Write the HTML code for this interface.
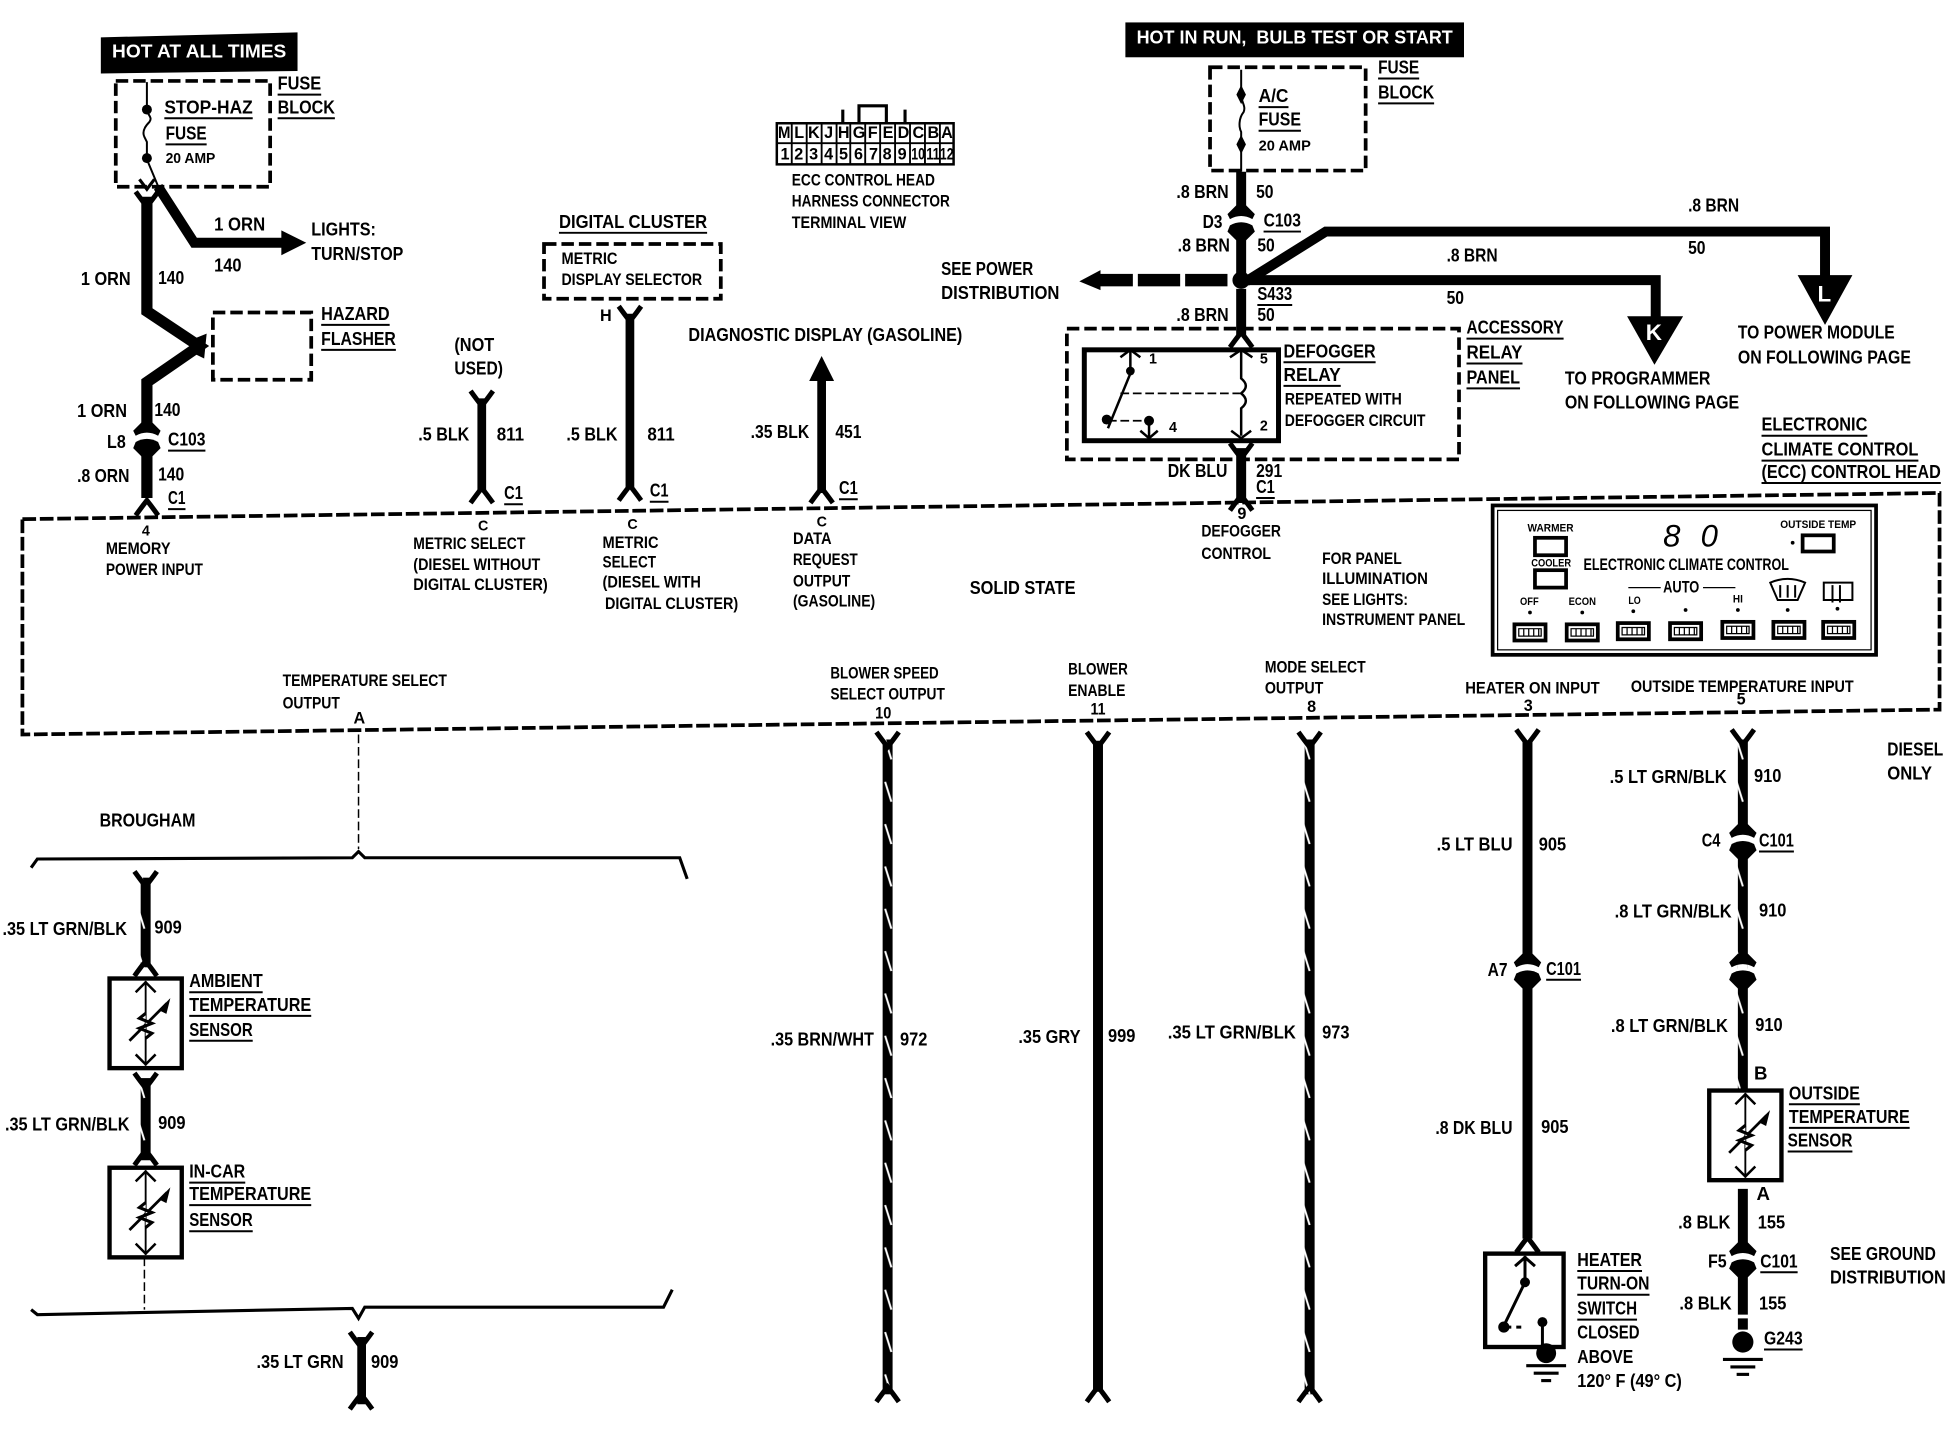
<!DOCTYPE html>
<html><head><meta charset="utf-8"><title>ECC wiring diagram</title>
<style>
html,body{margin:0;padding:0;background:#fff}
svg{display:block}
text{font-family:"Liberation Sans",sans-serif;font-weight:700;font-size:15px;fill:#000;transform:translateY(-1px)}
.s{font-size:13px}.t{font-size:11.5px}.w{fill:#fff}
.k{fill:none;stroke:#000}
</style></head><body>
<svg width="1952" height="1440" viewBox="0 0 1568 1156.7" xmlns="http://www.w3.org/2000/svg">
<defs>
<pattern id="st" width="12" height="34" patternUnits="userSpaceOnUse" patternTransform="translate(0,8)">
<rect width="12" height="34" fill="#000"/><path d="M3,8 L8,24" stroke="#fff" stroke-width="1.6"/>
</pattern>
<g id="ft"><path d="M-9,-6 Q-4,1 0,6 Q4,1 9,-6" fill="none" stroke="#000" stroke-width="4"/></g>
<g id="fb"><path d="M-9,6 Q-4,-1 0,-6 Q4,-1 9,6" fill="none" stroke="#000" stroke-width="4"/></g>
<g id="cn"><path d="M-11,-7 L-4,-14 H4 L11,-7 L9,-3 Q0,-8 -9,-3 Z"/><path d="M-11,7 L-4,14 H4 L11,7 L9,2 Q0,-3 -9,2 Z"/></g>
<g id="sensor">
<rect x="0" y="0" width="58" height="72" fill="#fff" stroke="#000" stroke-width="3.5"/>
<path d="M29,2 V70" stroke="#000" stroke-width="1.5" fill="none"/>
<path d="M21,11 L29,3 L37,11 M21,61 L29,69 L37,61" stroke="#000" stroke-width="2" fill="none"/>
<path d="M16,50 L46,20" stroke="#000" stroke-width="2.2" fill="none"/>
<path d="M41,25 L47,19 L45,27 Z" stroke="#000" stroke-width="2"/>
<path d="M29,28 L24,32 L34,36 L24,40 L34,44 L29,48" stroke="#000" stroke-width="2.5" fill="#fff"/>
</g>
<g id="btn"><rect x="0" y="0" width="28" height="16" fill="#000"/><rect x="3" y="3" width="22" height="10" fill="#fff"/><path d="M5,5H23V11H5Z M9,5V11M13,5V11M17,5V11M21,5V11" fill="none" stroke="#000"/></g>
</defs>

<!-- black headers -->
<path d="M81,30 L239,26 V57 L81,59 Z" fill="#000"/>
<rect x="904" y="18" width="272" height="28" fill="#000"/>

<!-- dashed boxes -->
<g class="k" stroke-width="3" stroke-dasharray="10 4">
<rect x="93" y="65" width="124" height="85"/>
<path d="M18,417 L1558,396 V570 L18,590 Z" stroke-width="3" stroke-dasharray="11 3"/>
<rect x="171" y="251" width="79" height="54"/>
<rect x="437" y="196" width="142" height="44"/>
<rect x="972" y="54" width="125" height="83"/>
<rect x="857" y="264" width="315" height="105"/>
</g>

<!-- thin fuse lines -->
<g class="k" stroke-width="1.6">
<path d="M118,66 V88 C118,92 123,94 120,98 C116,102 114,106 116,110 L118,114 V128 M118,128 L128,152"/>
<path d="M997,56 V76 C997,82 1001,85 999,90 C995,95 995,102 997,106 V138"/>
</g>
<circle cx="118" cy="88" r="4"/><circle cx="118" cy="127" r="4"/>
<path d="M997,70 l-3,6 3,6 3,-6Z M997,110 l-3,6 3,6 3,-6Z" stroke="#000" stroke-width="1.5"/>
<path d="M112,144 L118,152 L124,144" class="k" stroke-width="2.5"/>

<!-- left wires -->
<g class="k" stroke-width="9" stroke-linejoin="miter">
<path d="M118,158 V250 L160,278 L118,307 V345"/>
<path d="M118,362 V400"/>
<path d="M127,150 L156,195 H228" stroke-width="8"/>
</g>
<path d="M226,185 L246,195 L226,205 Z"/>
<path d="M156,272 L166,268 L164,288 L156,284 Z"/>
<use href="#ft" x="118" y="160"/><use href="#cn" x="118" y="353"/><use href="#fb" x="118" y="408"/>

<!-- mid wires -->
<g class="k" stroke-width="7">
<path d="M387,320 V394"/><path d="M506,252 V392"/><path d="M660,303 V396"/>
</g>
<use href="#ft" x="387" y="320"/><use href="#fb" x="387" y="398"/>
<use href="#ft" x="506" y="252"/><use href="#fb" x="506" y="396"/>
<use href="#fb" x="660" y="398"/>
<path d="M650,306 L660,286 L670,306 Z"/>

<!-- right-top wires -->
<g class="k" stroke-width="8">
<path d="M997,138 V172"/><path d="M997,186 V222"/><path d="M997,232 V270"/><path d="M997,360 V404"/>
<path d="M1001,226 L1065,186 H1466 V224"/>
<path d="M1000,225 H1330 V256"/>
</g>
<use href="#cn" x="997" y="179"/>
<circle cx="997" cy="225" r="7"/>
<g fill="#000"><rect x="884" y="220" width="26" height="10"/><rect x="914" y="220" width="34" height="10"/><rect x="952" y="220" width="34" height="10"/>
<path d="M867,226 L884,217 V233 Z"/></g>
<path d="M1444,221 H1488 L1466,261 Z"/><path d="M1307,254 H1352 L1329,293 Z"/>
<text class="w" x="1460" y="243" style="font-size:18px">L</text>
<text class="w" x="1322" y="274" style="font-size:18px">K</text>
<use href="#fb" x="997" y="273"/><use href="#ft" x="997" y="362"/><use href="#fb" x="997" y="404"/>

<!-- relay -->
<rect x="871" y="281" width="156" height="73" fill="#fff" stroke="#000" stroke-width="4"/>
<g class="k" stroke-width="2">
<path d="M908,282 V300 L890,344"/><path d="M900,287 L908,281 L916,287 M988,287 L997,281 L1006,287 M989,346 L997,352 L1005,346 M916,346 L923,352 L930,346"/>
<path d="M923,340 V352"/>
<path d="M997,282 V304 C1002,308 1002,312 997,316 C1002,320 1002,324 997,328 V350"/>
</g>
<path d="M900,316 H996 M890,338 H922" stroke="#000" stroke-width="1.4" stroke-dasharray="7 3" fill="none"/>
<circle cx="908" cy="298" r="3.5"/><circle cx="889" cy="337" r="4"/><circle cx="923" cy="338" r="4"/>

<!-- connector icon -->
<path d="M690,99 V85 H712 V99 M677,99 V88 M727,99 V88" class="k" stroke-width="2.5"/>
<rect x="624" y="99" width="142" height="33" fill="#fff" stroke="#000" stroke-width="2"/>
<path d="M624,115 H766 M636,99V132M648,99V132M660,99V132M672,99V132M683,99V132M695,99V132M707,99V132M719,99V132M731,99V132M743,99V132M755,99V132" class="k" stroke-width="1.5"/>
<g>
<text x="625" y="112" style="font-size:13px" textLength="10" lengthAdjust="spacingAndGlyphs">M</text><text x="638" y="112" style="font-size:13px">L</text><text x="649" y="112" style="font-size:13px">K</text><text x="662" y="112" style="font-size:13px">J</text><text x="673" y="112" style="font-size:13px">H</text><text x="685" y="112" style="font-size:13px">G</text><text x="697" y="112" style="font-size:13px">F</text><text x="709" y="112" style="font-size:13px">E</text><text x="721" y="112" style="font-size:13px">D</text><text x="733" y="112" style="font-size:13px">C</text><text x="745" y="112" style="font-size:13px">B</text><text x="756" y="112" style="font-size:13px">A</text>
<text x="627" y="129" style="font-size:13px">1</text><text x="638" y="129" style="font-size:13px">2</text><text x="650" y="129" style="font-size:13px">3</text><text x="662" y="129" style="font-size:13px">4</text><text x="674" y="129" style="font-size:13px">5</text><text x="686" y="129" style="font-size:13px">6</text><text x="698" y="129" style="font-size:13px">7</text><text x="709" y="129" style="font-size:13px">8</text><text x="721" y="129" style="font-size:13px">9</text><text x="732" y="129" style="font-size:13px" textLength="11" lengthAdjust="spacingAndGlyphs">10</text><text x="744" y="129" style="font-size:13px" textLength="11" lengthAdjust="spacingAndGlyphs">11</text><text x="755" y="129" style="font-size:13px" textLength="11" lengthAdjust="spacingAndGlyphs">12</text>
</g>

<!-- ECC panel -->
<rect x="1199" y="406" width="308" height="120" fill="#fff" stroke="#000" stroke-width="3"/>
<rect x="1203" y="410" width="300" height="112" fill="none" stroke="#000" stroke-width="1"/>
<g class="k" stroke-width="3">
<rect x="1233" y="432" width="25" height="14"/><rect x="1233" y="458" width="25" height="14"/><rect x="1448" y="430" width="25" height="13"/>
</g>
<use href="#btn" x="1215" y="500"/><use href="#btn" x="1257" y="500"/><use href="#btn" x="1298" y="499"/><use href="#btn" x="1340" y="499"/><use href="#btn" x="1382" y="498"/><use href="#btn" x="1423" y="498"/><use href="#btn" x="1463" y="498"/>
<g fill="#000"><circle cx="1229" cy="492" r="1.5"/><circle cx="1271" cy="492" r="1.5"/><circle cx="1312" cy="491" r="1.5"/><circle cx="1354" cy="490" r="1.5"/><circle cx="1396" cy="490" r="1.5"/><circle cx="1436" cy="490" r="1.5"/><circle cx="1476" cy="489" r="1.5"/><circle cx="1440" cy="436" r="1.5"/></g>
<path d="M1308,472 H1334 M1368,472 H1394" class="k" stroke-width="1"/>
<path d="M1422,468 Q1436,462 1450,468 L1444,482 H1428 Z M1465,468 H1488 V482 H1465 Z M1430,470 V480 M1436,470 V480 M1442,470 V480 M1472,470 V484 M1478,470 V484" class="k" stroke-width="1.6"/>
<text x="1336" y="440" style="font-size:25px;font-style:italic;font-weight:400" textLength="44" lengthAdjust="spacing">8 0</text>

<!-- ssb bottom wires -->
<g class="k" stroke-width="7">
<path d="M882,595 V1118" stroke-width="8"/>
<path d="M1227,595 V995" stroke-width="8"/>
<path d="M1400,955 V1004" stroke-width="8"/>
<path d="M1400,1022 V1056 M1400,1059 V1068" stroke-width="8"/>
</g>
<rect x="709" y="594" width="8" height="526" fill="url(#st)"/>
<rect x="1048" y="594" width="8" height="526" fill="url(#st)"/>
<rect x="1396" y="594" width="8" height="72" fill="url(#st)"/>
<rect x="1396" y="684" width="8" height="94" fill="url(#st)"/>
<rect x="1396" y="782" width="8" height="95" fill="url(#st)"/>
<use href="#ft" x="713" y="594"/><use href="#ft" x="882" y="594"/><use href="#ft" x="1052" y="594"/><use href="#ft" x="1227" y="592"/><use href="#ft" x="1400" y="592"/>
<use href="#fb" x="713" y="1120"/><use href="#fb" x="882" y="1120"/><use href="#fb" x="1052" y="1120"/>
<path d="M1227,770 V790" stroke="#fff" stroke-width="9"/>
<path d="M1396,664 H1404 V688 H1396 Z M1396,770 H1404 V790 H1396 Z" fill="#fff"/>
<use href="#cn" x="1400" y="676"/><use href="#cn" x="1400" y="780"/><use href="#cn" x="1227" y="780"/><use href="#cn" x="1400" y="1012"/>
<use href="#fb" x="1227" y="1000"/>

<!-- Brougham -->
<path d="M288,590 V682" stroke="#000" stroke-width="1.2" stroke-dasharray="7 3" fill="none"/>
<path d="M25,697 L30,690 L283,689 L288,684 L293,689 H546 L552,706" class="k" stroke-width="2.5"/>
<path d="M116,1010 V1052" stroke="#000" stroke-width="1.2" stroke-dasharray="7 3" fill="none"/>
<path d="M25,1052 L30,1056 L283,1051 L288,1059 L293,1050 L533,1050 L540,1036" class="k" stroke-width="2.5"/>
<rect x="113" y="705" width="8" height="72" fill="url(#st)"/>
<rect x="113" y="866" width="8" height="66" fill="url(#st)"/>
<rect x="287" y="1074" width="7" height="54" fill="#000"/>
<use href="#ft" x="117" y="706"/><use href="#fb" x="117" y="778"/><use href="#ft" x="117" y="868"/><use href="#fb" x="117" y="930"/>
<use href="#ft" x="290" y="1076"/><use href="#fb" x="290" y="1126"/>
<use href="#sensor" x="88" y="786"/><use href="#sensor" x="88" y="938"/><use href="#sensor" x="1373" y="876"/>

<!-- heater switch -->
<rect x="1193" y="1007" width="63" height="75" fill="#fff" stroke="#000" stroke-width="3.5"/>
<g class="k" stroke-width="2.4">
<path d="M1225,1009 V1030 L1208,1065"/><path d="M1217,1017 L1225,1010 L1233,1017"/>
<path d="M1208,1066 H1222" stroke-dasharray="6 4"/><path d="M1239,1062 V1082"/>
<path d="M1226,1097 H1258" stroke-width="2.5"/><path d="M1232,1103 H1252" stroke-width="2.5"/><path d="M1238,1109 H1246" stroke-width="2.5"/>
<path d="M1384,1092 H1416" stroke-width="2.5"/><path d="M1390,1098 H1410" stroke-width="2.5"/><path d="M1395,1104 H1405" stroke-width="2.5"/>
</g>
<circle cx="1225" cy="1030" r="4"/><circle cx="1208" cy="1066" r="4.5"/><circle cx="1239" cy="1062" r="4"/><circle cx="1242" cy="1087" r="8"/><circle cx="1400" cy="1078" r="8.5"/>

<!-- underlines -->
<path class="k" stroke-width="1.6" d="M223,76h35M223,95h46M132,95h71M133,116h33M258,261h55M258,281h60M135,362h30M135,409h14M405,405h15M449,187h119M522,403h15M674,401h15M1107,63h33M1107,83h45M1011,86h24M1011,105h34M1015,186h30M1010,245h28M1178,272h78M1178,292h45M1178,312h43M1031,291h74M1031,310h46M1415,350h85M1415,370h126M1415,388h144M1009,400h15M1413,684h28M1242,787h28M1437,887h57M1437,906h97M1436,925h52M1414,1022h30M1417,1084h31M1267,1021h52M1267,1040h58M1267,1060h48M152,797h59M152,816h98M152,836h51M152,950h45M152,968h98M152,989h51"/>

<!-- labels -->
<text class="w" x="90" y="47" textLength="140" lengthAdjust="spacingAndGlyphs">HOT AT ALL TIMES</text>
<text class="w" x="913" y="36" textLength="254" lengthAdjust="spacingAndGlyphs" xml:space="preserve">HOT IN RUN,  BULB TEST OR START</text>
<text x="223" y="73" textLength="35" lengthAdjust="spacingAndGlyphs">FUSE</text>
<text x="223" y="92" textLength="46" lengthAdjust="spacingAndGlyphs">BLOCK</text>
<text x="132" y="92" textLength="71" lengthAdjust="spacingAndGlyphs">STOP-HAZ</text>
<text x="133" y="113" textLength="33" lengthAdjust="spacingAndGlyphs">FUSE</text>
<text class="t" x="133" y="132" textLength="40" lengthAdjust="spacingAndGlyphs">20 AMP</text>
<text x="172" y="186" textLength="41" lengthAdjust="spacingAndGlyphs">1 ORN</text>
<text x="250" y="190" textLength="52" lengthAdjust="spacingAndGlyphs">LIGHTS:</text>
<text x="250" y="210" textLength="74" lengthAdjust="spacingAndGlyphs">TURN/STOP</text>
<text x="172" y="219" textLength="22" lengthAdjust="spacingAndGlyphs">140</text>
<text x="65" y="230" textLength="40" lengthAdjust="spacingAndGlyphs">1 ORN</text>
<text x="127" y="229" textLength="21" lengthAdjust="spacingAndGlyphs">140</text>
<text x="258" y="258" textLength="55" lengthAdjust="spacingAndGlyphs">HAZARD</text>
<text x="258" y="278" textLength="60" lengthAdjust="spacingAndGlyphs">FLASHER</text>
<text x="62" y="336" textLength="40" lengthAdjust="spacingAndGlyphs">1 ORN</text>
<text x="124" y="335" textLength="21" lengthAdjust="spacingAndGlyphs">140</text>
<text x="86" y="361" textLength="15" lengthAdjust="spacingAndGlyphs">L8</text>
<text x="135" y="359" textLength="30" lengthAdjust="spacingAndGlyphs">C103</text>
<text x="62" y="388" textLength="42" lengthAdjust="spacingAndGlyphs">.8 ORN</text>
<text x="127" y="387" textLength="21" lengthAdjust="spacingAndGlyphs">140</text>
<text x="135" y="406" textLength="14" lengthAdjust="spacingAndGlyphs">C1</text>
<text class="t" x="114" y="431">4</text>
<text class="s" x="85" y="446" textLength="52" lengthAdjust="spacingAndGlyphs">MEMORY</text>
<text class="s" x="85" y="463" textLength="78" lengthAdjust="spacingAndGlyphs">POWER INPUT</text>
<text x="365" y="283" textLength="32" lengthAdjust="spacingAndGlyphs">(NOT</text>
<text x="365" y="302" textLength="39" lengthAdjust="spacingAndGlyphs">USED)</text>
<text x="336" y="355" textLength="41" lengthAdjust="spacingAndGlyphs">.5 BLK</text>
<text x="399" y="355" textLength="22" lengthAdjust="spacingAndGlyphs">811</text>
<text x="405" y="402" textLength="15" lengthAdjust="spacingAndGlyphs">C1</text>
<text class="t" x="384" y="427">C</text>
<text class="s" x="332" y="442" textLength="90" lengthAdjust="spacingAndGlyphs">METRIC SELECT</text>
<text class="s" x="332" y="459" textLength="102" lengthAdjust="spacingAndGlyphs">(DIESEL WITHOUT</text>
<text class="s" x="332" y="475" textLength="108" lengthAdjust="spacingAndGlyphs">DIGITAL CLUSTER)</text>
<text x="449" y="184" textLength="119" lengthAdjust="spacingAndGlyphs">DIGITAL CLUSTER</text>
<text class="s" x="451" y="213" textLength="45" lengthAdjust="spacingAndGlyphs">METRIC</text>
<text class="s" x="451" y="230" textLength="113" lengthAdjust="spacingAndGlyphs">DISPLAY SELECTOR</text>
<text class="s" x="482" y="259">H</text>
<text x="455" y="355" textLength="41" lengthAdjust="spacingAndGlyphs">.5 BLK</text>
<text x="520" y="355" textLength="22" lengthAdjust="spacingAndGlyphs">811</text>
<text x="522" y="400" textLength="15" lengthAdjust="spacingAndGlyphs">C1</text>
<text class="t" x="504" y="426">C</text>
<text class="s" x="484" y="441" textLength="45" lengthAdjust="spacingAndGlyphs">METRIC</text>
<text class="s" x="484" y="457" textLength="43" lengthAdjust="spacingAndGlyphs">SELECT</text>
<text class="s" x="484" y="473" textLength="79" lengthAdjust="spacingAndGlyphs">(DIESEL WITH</text>
<text class="s" x="486" y="490" textLength="107" lengthAdjust="spacingAndGlyphs">DIGITAL CLUSTER)</text>
<text x="553" y="275" textLength="220" lengthAdjust="spacingAndGlyphs">DIAGNOSTIC DISPLAY (GASOLINE)</text>
<text x="603" y="353" textLength="47" lengthAdjust="spacingAndGlyphs">.35 BLK</text>
<text x="671" y="353" textLength="21" lengthAdjust="spacingAndGlyphs">451</text>
<text x="674" y="398" textLength="15" lengthAdjust="spacingAndGlyphs">C1</text>
<text class="t" x="656" y="424">C</text>
<text class="s" x="637" y="438" textLength="31" lengthAdjust="spacingAndGlyphs">DATA</text>
<text class="s" x="637" y="455" textLength="52" lengthAdjust="spacingAndGlyphs">REQUEST</text>
<text class="s" x="637" y="472" textLength="46" lengthAdjust="spacingAndGlyphs">OUTPUT</text>
<text class="s" x="637" y="488" textLength="66" lengthAdjust="spacingAndGlyphs">(GASOLINE)</text>
<text class="s" x="636" y="150" textLength="115" lengthAdjust="spacingAndGlyphs">ECC CONTROL HEAD</text>
<text class="s" x="636" y="167" textLength="127" lengthAdjust="spacingAndGlyphs">HARNESS CONNECTOR</text>
<text class="s" x="636" y="184" textLength="92" lengthAdjust="spacingAndGlyphs">TERMINAL VIEW</text>
<text x="779" y="478" textLength="85" lengthAdjust="spacingAndGlyphs">SOLID STATE</text>
<text class="s" x="227" y="552" textLength="132" lengthAdjust="spacingAndGlyphs">TEMPERATURE SELECT</text>
<text class="s" x="227" y="570" textLength="46" lengthAdjust="spacingAndGlyphs">OUTPUT</text>
<text class="s" x="284" y="582">A</text>
<text class="s" x="667" y="546" textLength="87" lengthAdjust="spacingAndGlyphs">BLOWER SPEED</text>
<text class="s" x="667" y="563" textLength="92" lengthAdjust="spacingAndGlyphs">SELECT OUTPUT</text>
<text class="s" x="703" y="578" textLength="13" lengthAdjust="spacingAndGlyphs">10</text>
<text class="s" x="858" y="543" textLength="48" lengthAdjust="spacingAndGlyphs">BLOWER</text>
<text class="s" x="858" y="560" textLength="46" lengthAdjust="spacingAndGlyphs">ENABLE</text>
<text class="s" x="876" y="575" textLength="12" lengthAdjust="spacingAndGlyphs">11</text>
<text class="s" x="1016" y="541" textLength="81" lengthAdjust="spacingAndGlyphs">MODE SELECT</text>
<text class="s" x="1016" y="558" textLength="47" lengthAdjust="spacingAndGlyphs">OUTPUT</text>
<text class="s" x="1050" y="573">8</text>
<text class="s" x="1177" y="558" textLength="108" lengthAdjust="spacingAndGlyphs">HEATER ON  INPUT</text>
<text class="s" x="1224" y="572">3</text>
<text class="s" x="1310" y="557" textLength="179" lengthAdjust="spacingAndGlyphs">OUTSIDE TEMPERATURE  INPUT</text>
<text class="s" x="1395" y="567">5</text>
<text class="s" x="1062" y="454" textLength="64" lengthAdjust="spacingAndGlyphs">FOR PANEL</text>
<text class="s" x="1062" y="470" textLength="85" lengthAdjust="spacingAndGlyphs">ILLUMINATION</text>
<text class="s" x="1062" y="487" textLength="69" lengthAdjust="spacingAndGlyphs">SEE LIGHTS:</text>
<text class="s" x="1062" y="503" textLength="115" lengthAdjust="spacingAndGlyphs">INSTRUMENT PANEL</text>
<text class="s" x="994" y="418">9</text>
<text class="s" x="965" y="432" textLength="64" lengthAdjust="spacingAndGlyphs">DEFOGGER</text>
<text class="s" x="965" y="450" textLength="56" lengthAdjust="spacingAndGlyphs">CONTROL</text>
<text x="1107" y="60" textLength="33" lengthAdjust="spacingAndGlyphs">FUSE</text>
<text x="1107" y="80" textLength="45" lengthAdjust="spacingAndGlyphs">BLOCK</text>
<text x="1011" y="83" textLength="24" lengthAdjust="spacingAndGlyphs">A/C</text>
<text x="1011" y="102" textLength="34" lengthAdjust="spacingAndGlyphs">FUSE</text>
<text class="t" x="1011" y="122" textLength="42" lengthAdjust="spacingAndGlyphs">20 AMP</text>
<text x="945" y="160" textLength="42" lengthAdjust="spacingAndGlyphs">.8 BRN</text>
<text x="1009" y="160" textLength="14" lengthAdjust="spacingAndGlyphs">50</text>
<text x="966" y="184" textLength="16" lengthAdjust="spacingAndGlyphs">D3</text>
<text x="1015" y="183" textLength="30" lengthAdjust="spacingAndGlyphs">C103</text>
<text x="946" y="203" textLength="42" lengthAdjust="spacingAndGlyphs">.8 BRN</text>
<text x="1010" y="203" textLength="14" lengthAdjust="spacingAndGlyphs">50</text>
<text x="1356" y="171" textLength="41" lengthAdjust="spacingAndGlyphs">.8 BRN</text>
<text x="1356" y="205" textLength="14" lengthAdjust="spacingAndGlyphs">50</text>
<text x="1162" y="211" textLength="41" lengthAdjust="spacingAndGlyphs">.8 BRN</text>
<text x="1162" y="245" textLength="14" lengthAdjust="spacingAndGlyphs">50</text>
<text x="1010" y="242" textLength="28" lengthAdjust="spacingAndGlyphs">S433</text>
<text x="945" y="259" textLength="42" lengthAdjust="spacingAndGlyphs">.8 BRN</text>
<text x="1010" y="259" textLength="14" lengthAdjust="spacingAndGlyphs">50</text>
<text x="756" y="222" textLength="74" lengthAdjust="spacingAndGlyphs">SEE POWER</text>
<text x="756" y="241" textLength="95" lengthAdjust="spacingAndGlyphs">DISTRIBUTION</text>
<text x="1178" y="269" textLength="78" lengthAdjust="spacingAndGlyphs">ACCESSORY</text>
<text x="1178" y="289" textLength="45" lengthAdjust="spacingAndGlyphs">RELAY</text>
<text x="1178" y="309" textLength="43" lengthAdjust="spacingAndGlyphs">PANEL</text>
<text x="1031" y="288" textLength="74" lengthAdjust="spacingAndGlyphs">DEFOGGER</text>
<text x="1031" y="307" textLength="46" lengthAdjust="spacingAndGlyphs">RELAY</text>
<text class="s" x="1032" y="326" textLength="94" lengthAdjust="spacingAndGlyphs">REPEATED WITH</text>
<text class="s" x="1032" y="343" textLength="113" lengthAdjust="spacingAndGlyphs">DEFOGGER CIRCUIT</text>
<text class="t" x="923" y="293">1</text><text class="t" x="1012" y="293">5</text><text class="t" x="939" y="348">4</text><text class="t" x="1012" y="347">2</text>
<text x="1396" y="273" textLength="126" lengthAdjust="spacingAndGlyphs">TO POWER MODULE</text>
<text x="1396" y="293" textLength="139" lengthAdjust="spacingAndGlyphs">ON FOLLOWING PAGE</text>
<text x="1257" y="310" textLength="117" lengthAdjust="spacingAndGlyphs">TO PROGRAMMER</text>
<text x="1257" y="329" textLength="140" lengthAdjust="spacingAndGlyphs">ON FOLLOWING PAGE</text>
<text x="1415" y="347" textLength="85" lengthAdjust="spacingAndGlyphs">ELECTRONIC</text>
<text x="1415" y="367" textLength="126" lengthAdjust="spacingAndGlyphs">CLIMATE CONTROL</text>
<text x="1415" y="385" textLength="144" lengthAdjust="spacingAndGlyphs">(ECC) CONTROL HEAD</text>
<text x="938" y="384" textLength="48" lengthAdjust="spacingAndGlyphs">DK BLU</text>
<text x="1009" y="384" textLength="21" lengthAdjust="spacingAndGlyphs">291</text>
<text x="1009" y="397" textLength="15" lengthAdjust="spacingAndGlyphs">C1</text>
<!-- panel text -->
<text x="1227" y="428" style="font-size:9px" textLength="37" lengthAdjust="spacingAndGlyphs">WARMER</text>
<text x="1230" y="456" style="font-size:9px" textLength="32" lengthAdjust="spacingAndGlyphs">COOLER</text>
<text x="1430" y="425" style="font-size:9px" textLength="61" lengthAdjust="spacingAndGlyphs">OUTSIDE TEMP</text>
<text x="1272" y="459" class="s" textLength="165" lengthAdjust="spacingAndGlyphs">ELECTRONIC CLIMATE CONTROL</text>
<text x="1336" y="477" class="s" textLength="29" lengthAdjust="spacingAndGlyphs">AUTO</text>
<text x="1221" y="487" style="font-size:9px" textLength="15" lengthAdjust="spacingAndGlyphs">OFF</text>
<text x="1260" y="487" style="font-size:9px" textLength="22" lengthAdjust="spacingAndGlyphs">ECON</text>
<text x="1308" y="486" style="font-size:9px" textLength="10" lengthAdjust="spacingAndGlyphs">LO</text>
<text x="1392" y="485" style="font-size:9px" textLength="8" lengthAdjust="spacingAndGlyphs">HI</text>
<!-- bottom -->
<text x="1516" y="608" textLength="45" lengthAdjust="spacingAndGlyphs">DIESEL</text>
<text x="1516" y="627" textLength="36" lengthAdjust="spacingAndGlyphs">ONLY</text>
<text x="1293" y="630" textLength="94" lengthAdjust="spacingAndGlyphs">.5 LT GRN/BLK</text>
<text x="1409" y="629" textLength="22" lengthAdjust="spacingAndGlyphs">910</text>
<text x="1367" y="681" textLength="15" lengthAdjust="spacingAndGlyphs">C4</text>
<text x="1413" y="681" textLength="28" lengthAdjust="spacingAndGlyphs">C101</text>
<text x="1297" y="738" textLength="94" lengthAdjust="spacingAndGlyphs">.8 LT GRN/BLK</text>
<text x="1413" y="737" textLength="22" lengthAdjust="spacingAndGlyphs">910</text>
<text x="1294" y="830" textLength="94" lengthAdjust="spacingAndGlyphs">.8 LT GRN/BLK</text>
<text x="1410" y="829" textLength="22" lengthAdjust="spacingAndGlyphs">910</text>
<text x="1154" y="684" textLength="61" lengthAdjust="spacingAndGlyphs">.5 LT BLU</text>
<text x="1236" y="684" textLength="22" lengthAdjust="spacingAndGlyphs">905</text>
<text x="1195" y="785" textLength="16" lengthAdjust="spacingAndGlyphs">A7</text>
<text x="1242" y="784" textLength="28" lengthAdjust="spacingAndGlyphs">C101</text>
<text x="1153" y="912" textLength="62" lengthAdjust="spacingAndGlyphs">.8 DK BLU</text>
<text x="1238" y="911" textLength="22" lengthAdjust="spacingAndGlyphs">905</text>
<text x="1409" y="868">B</text>
<text x="1437" y="884" textLength="57" lengthAdjust="spacingAndGlyphs">OUTSIDE</text>
<text x="1437" y="903" textLength="97" lengthAdjust="spacingAndGlyphs">TEMPERATURE</text>
<text x="1436" y="922" textLength="52" lengthAdjust="spacingAndGlyphs">SENSOR</text>
<text x="1411" y="965">A</text>
<text x="1348" y="988" textLength="42" lengthAdjust="spacingAndGlyphs">.8 BLK</text>
<text x="1412" y="988" textLength="22" lengthAdjust="spacingAndGlyphs">155</text>
<text x="1372" y="1019" textLength="15" lengthAdjust="spacingAndGlyphs">F5</text>
<text x="1414" y="1019" textLength="30" lengthAdjust="spacingAndGlyphs">C101</text>
<text x="1349" y="1053" textLength="42" lengthAdjust="spacingAndGlyphs">.8 BLK</text>
<text x="1413" y="1053" textLength="22" lengthAdjust="spacingAndGlyphs">155</text>
<text x="1417" y="1081" textLength="31" lengthAdjust="spacingAndGlyphs">G243</text>
<text x="1470" y="1013" textLength="85" lengthAdjust="spacingAndGlyphs">SEE GROUND</text>
<text x="1470" y="1032" textLength="93" lengthAdjust="spacingAndGlyphs">DISTRIBUTION</text>
<text x="1267" y="1018" textLength="52" lengthAdjust="spacingAndGlyphs">HEATER</text>
<text x="1267" y="1037" textLength="58" lengthAdjust="spacingAndGlyphs">TURN-ON</text>
<text x="1267" y="1057" textLength="48" lengthAdjust="spacingAndGlyphs">SWITCH</text>
<text x="1267" y="1076" textLength="50" lengthAdjust="spacingAndGlyphs">CLOSED</text>
<text x="1267" y="1096" textLength="45" lengthAdjust="spacingAndGlyphs">ABOVE</text>
<text x="1267" y="1115" textLength="84" lengthAdjust="spacingAndGlyphs">120° F (49° C)</text>
<text x="619" y="841" textLength="83" lengthAdjust="spacingAndGlyphs">.35 BRN/WHT</text>
<text x="723" y="841" textLength="22" lengthAdjust="spacingAndGlyphs">972</text>
<text x="818" y="839" textLength="50" lengthAdjust="spacingAndGlyphs">.35 GRY</text>
<text x="890" y="838" textLength="22" lengthAdjust="spacingAndGlyphs">999</text>
<text x="938" y="835" textLength="103" lengthAdjust="spacingAndGlyphs">.35 LT GRN/BLK</text>
<text x="1062" y="835" textLength="22" lengthAdjust="spacingAndGlyphs">973</text>
<text x="80" y="665" textLength="77" lengthAdjust="spacingAndGlyphs">BROUGHAM</text>
<text x="2" y="752" textLength="100" lengthAdjust="spacingAndGlyphs">.35 LT GRN/BLK</text>
<text x="124" y="751" textLength="22" lengthAdjust="spacingAndGlyphs">909</text>
<text x="152" y="794" textLength="59" lengthAdjust="spacingAndGlyphs">AMBIENT</text>
<text x="152" y="813" textLength="98" lengthAdjust="spacingAndGlyphs">TEMPERATURE</text>
<text x="152" y="833" textLength="51" lengthAdjust="spacingAndGlyphs">SENSOR</text>
<text x="4" y="909" textLength="100" lengthAdjust="spacingAndGlyphs">.35 LT GRN/BLK</text>
<text x="127" y="908" textLength="22" lengthAdjust="spacingAndGlyphs">909</text>
<text x="152" y="947" textLength="45" lengthAdjust="spacingAndGlyphs">IN-CAR</text>
<text x="152" y="965" textLength="98" lengthAdjust="spacingAndGlyphs">TEMPERATURE</text>
<text x="152" y="986" textLength="51" lengthAdjust="spacingAndGlyphs">SENSOR</text>
<text x="206" y="1100" textLength="70" lengthAdjust="spacingAndGlyphs">.35 LT GRN</text>
<text x="298" y="1100" textLength="22" lengthAdjust="spacingAndGlyphs">909</text>
</svg>
</body></html>
